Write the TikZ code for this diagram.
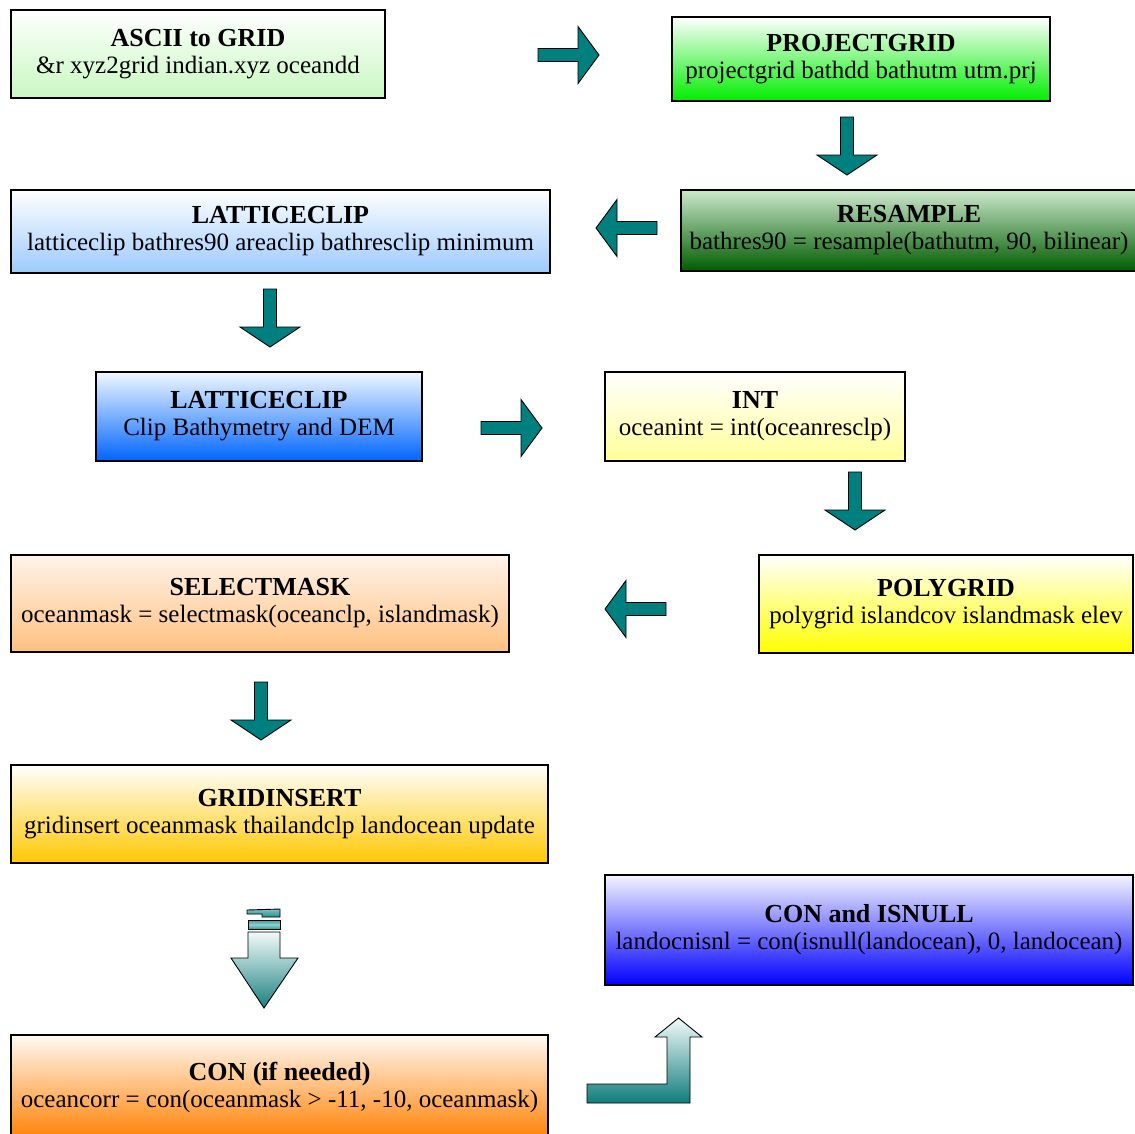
\documentclass[tikz,border=0pt]{standalone}
\usepackage{fontspec}
\setmainfont{Liberation Serif}
\definecolor{arrteal}{HTML}{007F7F}
\definecolor{cA}{HTML}{C8F8C0}
\definecolor{cB}{HTML}{00EE00}
\definecolor{cC}{HTML}{9CCAFF}
\definecolor{cDt}{HTML}{CCE8CC}
\definecolor{cD}{HTML}{005C00}
\definecolor{cEt}{HTML}{F0F8FF}
\definecolor{cE}{HTML}{0064FF}
\definecolor{cF}{HTML}{FFFF99}
\definecolor{cGt}{HTML}{FFF4EA}
\definecolor{cG}{HTML}{FFC080}
\definecolor{cH}{HTML}{FFFF00}
\definecolor{cI}{HTML}{FFC800}
\definecolor{cJt}{HTML}{F4F4FF}
\definecolor{cJ}{HTML}{0000FF}
\definecolor{cKt}{HTML}{FFFAF4}
\definecolor{cK}{HTML}{FF8000}
\definecolor{s1t}{HTML}{7CC4C4}
\definecolor{s1b}{HTML}{2A8C8C}
\definecolor{s2}{HTML}{3A9A9A}
\definecolor{s2m}{HTML}{8FD0D0}
\definecolor{s3t}{HTML}{F2FAFA}
\definecolor{s3b}{HTML}{1A8080}
\definecolor{s4b}{HTML}{127C7C}
\newcommand\boxtitle[1]{{\fontsize{26}{27}\selectfont\bfseries #1}}
\begin{document}
\begin{tikzpicture}[x=1pt,y=-1pt,
  box/.style={draw=black, line width=1.5pt, rectangle, anchor=north west,
    inner sep=0pt, outer sep=0pt, align=center,
    font=\fontsize{25}{27}\selectfont},
  arrstyle/.style={fill=arrteal, draw=black, line width=0.9pt, line join=miter},
  rarr/.pic={\draw[arrstyle] (0,-6.5) -- (40,-6.5) -- (40,-28.5) -- (61,0) -- (40,28.5) -- (40,6.5) -- (0,6.5) -- cycle;},
  larr/.pic={\draw[arrstyle] (0,-6.5) -- (-40,-6.5) -- (-40,-28.5) -- (-61,0) -- (-40,28.5) -- (-40,6.5) -- (0,6.5) -- cycle;},
  darr/.pic={\draw[arrstyle] (-6.5,0) -- (-6.5,38) -- (-30,38) -- (0,58) -- (30,38) -- (6.5,38) -- (6.5,0) -- cycle;}
]
\fill[white] (0,0) rectangle (1135,1133);
\useasboundingbox (0,0) rectangle (1135,1133);

% boxes
\node[box, minimum width=374, minimum height=88, top color=white, bottom color=cA] (ascii) at (11,10)
  {\boxtitle{ASCII to GRID}\\ \&r xyz2grid indian.xyz oceandd};
\node[box, minimum width=378, minimum height=84, top color=white, bottom color=cB] (project) at (672,17)
  {\boxtitle{PROJECTGRID}\\ projectgrid bathdd bathutm utm.prj};
\node[box, minimum width=539, minimum height=83, top color=white, bottom color=cC] (lattice1) at (11,190)
  {\boxtitle{LATTICECLIP}\\ latticeclip bathres90 areaclip bathresclip minimum};
\node[box, minimum width=456, minimum height=81, top color=cDt, bottom color=cD] (resample) at (681,190)
  {\boxtitle{RESAMPLE}\\ bathres90 = resample(bathutm, 90, bilinear)};
\node[box, minimum width=326, minimum height=89, top color=cEt, bottom color=cE] (lattice2) at (96,372)
  {\boxtitle{LATTICECLIP}\\ Clip Bathymetry and DEM};
\node[box, minimum width=300, minimum height=89, top color=white, bottom color=cF] (int) at (605,372)
  {\boxtitle{INT}\\ oceanint = int(oceanresclp)};
\node[box, minimum width=498, minimum height=97, top color=cGt, bottom color=cG] (selectmask) at (11,555)
  {\boxtitle{SELECTMASK}\\ oceanmask = selectmask(oceanclp, islandmask)};
\node[box, minimum width=374, minimum height=98, top color=white, bottom color=cH] (polygrid) at (759,555)
  {\boxtitle{POLYGRID}\\ polygrid islandcov islandmask elev};
\node[box, minimum width=537, minimum height=98, top color=white, bottom color=cI] (gridinsert) at (11,765)
  {\boxtitle{GRIDINSERT}\\ gridinsert oceanmask thailandclp landocean update};
\node[box, minimum width=528, minimum height=110, top color=cJt, bottom color=cJ] (conisnull) at (605,875)
  {\boxtitle{CON and ISNULL}\\ landocnisnl = con(isnull(landocean), 0, landocean)};
\node[box, minimum width=537, minimum height=105, top color=cKt, bottom color=cK] (con) at (11,1035)
  {\boxtitle{CON (if needed)}\\ oceancorr = con(oceanmask > -11, -10, oceanmask)};

% block arrows
\pic at (538,55) {rarr};
\pic at (847,117) {darr};
\pic at (657,228) {larr};
\pic at (270,289) {darr};
\pic at (481,428) {rarr};
\pic at (855,472) {darr};
\pic at (666,609) {larr};
\pic at (261,682) {darr};

% striped down arrow
\begin{scope}[draw=black, line width=0.9pt]
\draw[top color=s1t, bottom color=s1b] (247,910) -- (280,909) -- (280,917) -- (262,917) -- (262,914) -- (247,914) -- cycle;
\draw[top color=s2, bottom color=s2, middle color=s2m] (248,920) rectangle (280,929);
\draw[top color=s3t, bottom color=s3b] (248,932) -- (280,932) -- (280,958) -- (298,958) -- (264,1008) -- (231,958) -- (248,958) -- cycle;
% bent arrow
\draw[top color=s3t, bottom color=s4b] (587,1084) -- (667,1084) -- (667,1037) -- (655,1037) -- (678.5,1018) -- (702,1037) -- (690,1037) -- (690,1103) -- (587,1103) -- cycle;
\end{scope}
\end{tikzpicture}
\end{document}
